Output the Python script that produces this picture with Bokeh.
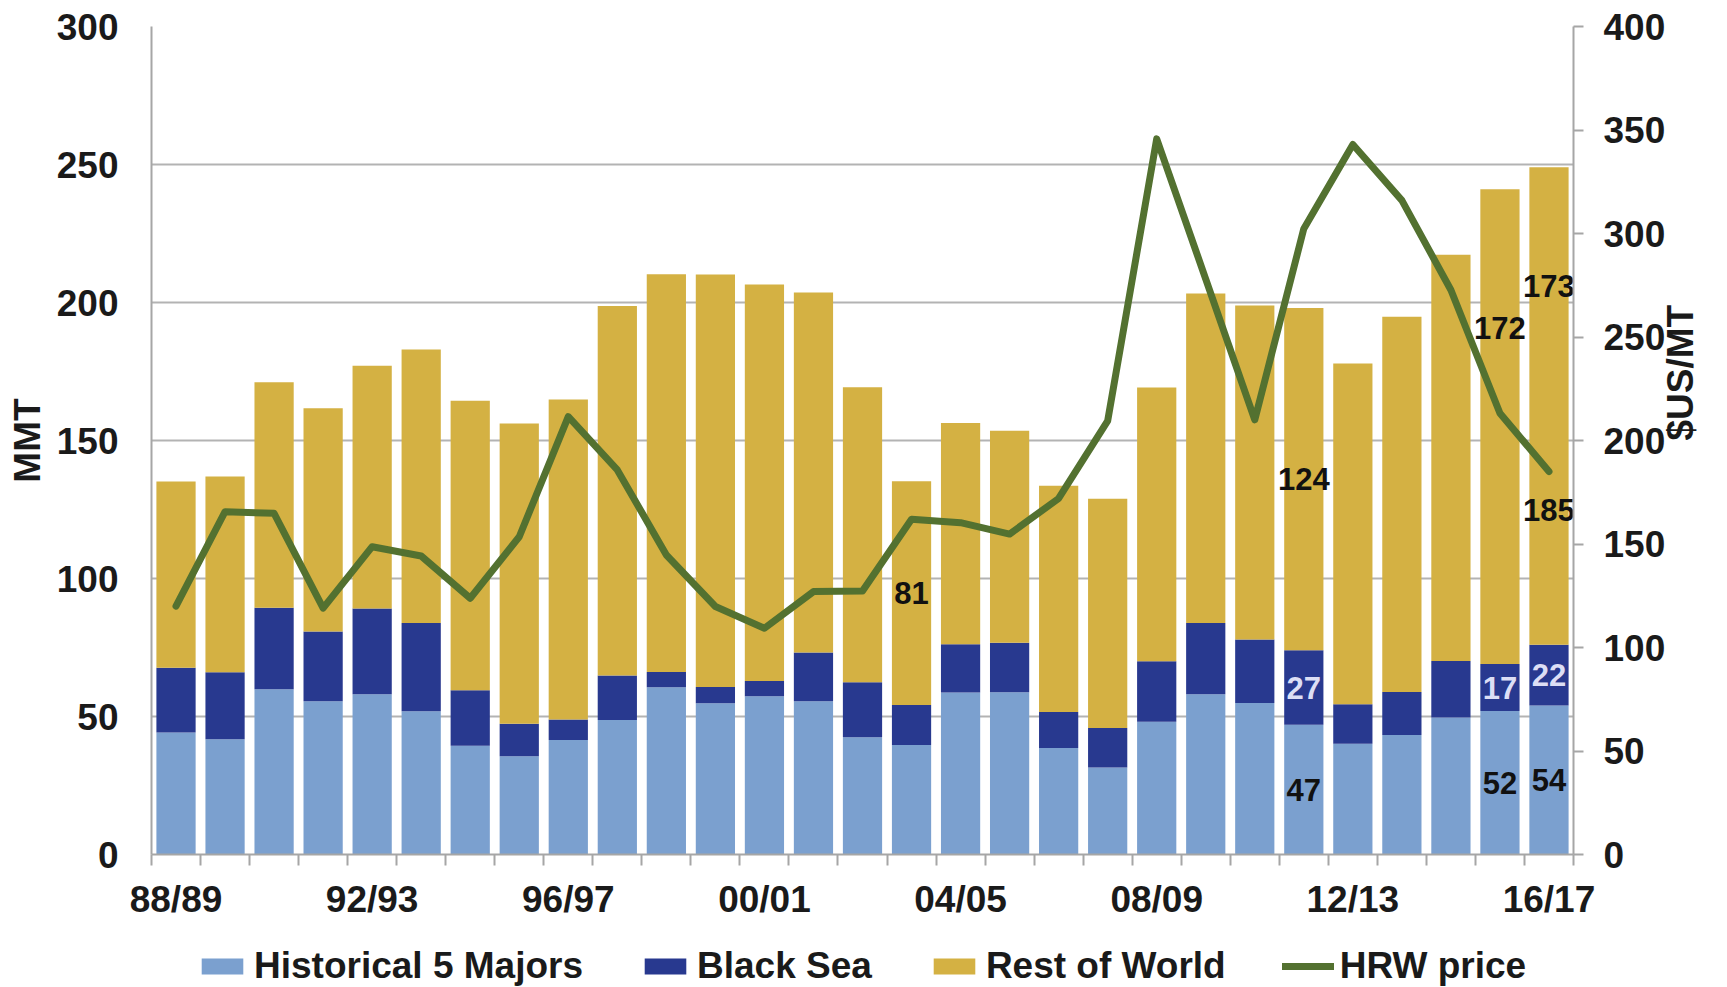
import math
from bokeh.plotting import figure
from bokeh.layouts import column
from bokeh.models import Range1d, LinearAxis, FixedTicker, Legend, LegendItem, ColumnDataSource
from bokeh.embed import file_html
from bokeh.resources import INLINE
from bokeh.core.properties import value

seasons = ["88/89", "89/90", "90/91", "91/92", "92/93", "93/94", "94/95", "95/96",
           "96/97", "97/98", "98/99", "99/00", "00/01", "01/02", "02/03", "03/04",
           "04/05", "05/06", "06/07", "07/08", "08/09", "09/10", "10/11", "11/12",
           "12/13", "13/14", "14/15", "15/16", "16/17"]
tick_seasons = ["88/89", "92/93", "96/97", "00/01", "04/05", "08/09", "12/13", "16/17"]

majors = [44.2, 41.8, 59.9, 55.5, 58.1, 51.9, 39.4, 35.6, 41.5, 48.7, 60.6, 54.8, 57.3, 55.5,
          42.5, 39.7, 58.7, 58.8, 38.6, 31.5, 48.1, 58.1, 54.9, 47, 40.1, 43.3, 49.6, 52, 54]
black_sea = [23.5, 24.2, 29.5, 25.3, 31.0, 32.0, 20.1, 11.8, 7.4, 16.2, 5.5, 5.9, 5.6, 17.7,
             19.9, 14.5, 17.5, 17.9, 13.0, 14.3, 21.9, 25.8, 23.0, 27, 14.3, 15.6, 20.5, 17, 22]
rest_of_world = [67.4, 71.0, 81.7, 80.9, 88.0, 99.1, 104.9, 108.8, 116.0, 133.8, 144.1, 149.4,
                 143.6, 130.4, 106.9, 81, 80.1, 76.8, 82.0, 83.1, 99.2, 119.4, 121.0, 124,
                 123.5, 135.9, 147.2, 172, 173]
hrw_price = [120, 165.6, 164.8, 119, 148.7, 144.2, 123.8, 153.5, 211.5, 185.8, 144.7, 119.8,
             109.3, 127, 127.3, 162, 160.3, 154.8, 172, 209.5, 345.7, 278, 210, 302.3, 343,
             316, 272.7, 213.2, 185]
legend_labels = ["Historical 5 Majors", "Black Sea", "Rest of World", "HRW price"]

# annotated segments: (season, series, extra pixel offset)
annotations = [("03/04", "rest", 0), ("11/12", "majors", 0), ("11/12", "black_sea", 0),
               ("11/12", "rest", 0), ("15/16", "majors", 0), ("15/16", "black_sea", 0),
               ("15/16", "rest", -99), ("16/17", "majors", 0), ("16/17", "black_sea", 0),
               ("16/17", "rest", -120)]
price_annotations = [("16/17", 38)]

C_MAJ = "#7BA0CF"
C_BS = "#28398F"
C_ROW = "#D4B143"
C_LINE = "#537130"
C_TXT = "#1a1a1a"
FONT = "Liberation Sans"
FS = "37px"
W = 1727
H_MAIN = 935
H_LEG = 52

xs = list(range(len(seasons)))
src = ColumnDataSource(dict(x=xs, majors=majors, black_sea=black_sea, rest=rest_of_world,
                            price=hrw_price))

p = figure(width=W, height=H_MAIN, output_backend="svg", toolbar_location=None,
           x_range=Range1d(-0.5, len(seasons) - 0.5), y_range=Range1d(0, 300),
           min_border_left=151, min_border_right=154, min_border_top=26, min_border_bottom=81)
p.outline_line_color = None
p.background_fill_color = "white"
p.extra_y_ranges = {"price": Range1d(0, 400)}

bars = p.vbar_stack(["majors", "black_sea", "rest"], x="x", width=0.8,
                    color=[C_MAJ, C_BS, C_ROW], line_color=None, source=src)
line = p.line("x", "price", source=src, y_range_name="price", line_width=7,
              line_color=C_LINE, line_join="round", line_cap="round")

# labels
series = {"majors": majors, "black_sea": black_sea, "rest": rest_of_world}
order = ["majors", "black_sea", "rest"]
lx, ly, lt, lc, ld = [], [], [], [], []
for season, ser, dy in annotations:
    i = seasons.index(season)
    base = sum(series[s][i] for s in order[:order.index(ser)])
    v = series[ser][i]
    lx.append(i)
    ly.append(base + v / 2)
    lt.append(str(int(round(v))))
    lc.append("#DCDEF5" if ser == "black_sea" else "#111111")
    ld.append(dy)
lab_src = ColumnDataSource(dict(x=lx, y=ly, t=lt, c=lc, d=ld))
p.text(x="x", y="y", text="t", text_color="c", y_offset="d", source=lab_src,
       text_align="center", text_baseline="middle", text_font=value(FONT),
       text_font_style="bold", text_font_size="31px")

px, py, pt, pd = [], [], [], []
for season, dy in price_annotations:
    i = seasons.index(season)
    px.append(i)
    py.append(hrw_price[i])
    pt.append(str(int(round(hrw_price[i]))))
    pd.append(dy)
p.text(x=px, y=py, text=pt, y_offset=pd, y_range_name="price", text_color="#111111",
       text_align="center", text_baseline="middle", text_font=value(FONT),
       text_font_style="bold", text_font_size="31px")

# x axis
xa = p.xaxis[0]
tick_pos = [seasons.index(s) for s in tick_seasons]
xa.ticker = FixedTicker(ticks=tick_pos, minor_ticks=[i - 0.5 for i in range(len(seasons) + 1)])
xa.major_label_overrides = {i: seasons[i] for i in tick_pos}
xa.major_tick_out = 0
xa.major_tick_in = 0
xa.minor_tick_out = 11
xa.minor_tick_in = 0
xa.minor_tick_line_color = "#A6A6A6"
xa.minor_tick_line_width = 2
xa.axis_line_color = "#A6A6A6"
xa.axis_line_width = 2
xa.major_label_standoff = 13
xa.major_label_text_font = FONT
xa.major_label_text_font_style = "bold"
xa.major_label_text_font_size = FS
xa.major_label_text_color = C_TXT

# left axis
ya = p.yaxis[0]
ya.ticker = FixedTicker(ticks=[0, 50, 100, 150, 200, 250, 300])
ya.major_tick_out = 0
ya.major_tick_in = 0
ya.minor_tick_out = 0
ya.minor_tick_in = 0
ya.axis_line_color = "#A6A6A6"
ya.axis_line_width = 2
ya.major_label_standoff = 33
ya.major_label_text_font = FONT
ya.major_label_text_font_style = "bold"
ya.major_label_text_font_size = FS
ya.major_label_text_color = C_TXT
ya.axis_label = "MMT"
ya.axis_label_standoff = 6
ya.axis_label_text_font = FONT
ya.axis_label_text_font_style = "bold"
ya.axis_label_text_font_size = FS
ya.axis_label_text_color = C_TXT

# right axis (ticks and numbers)
ra = LinearAxis(y_range_name="price", ticker=FixedTicker(ticks=[0, 50, 100, 150, 200, 250, 300, 350, 400]))
ra.major_tick_out = 10
ra.major_tick_in = 0
ra.minor_tick_out = 0
ra.minor_tick_in = 0
ra.major_tick_line_color = "#A6A6A6"
ra.major_tick_line_width = 2
ra.axis_line_color = "#A6A6A6"
ra.axis_line_width = 2
ra.major_label_standoff = 20
ra.major_label_text_font = FONT
ra.major_label_text_font_style = "bold"
ra.major_label_text_font_size = FS
ra.major_label_text_color = C_TXT
p.add_layout(ra, "right")

# right axis title, reading bottom-to-top; bounds shift its anchor so it is centred
rt = LinearAxis(y_range_name="price", ticker=FixedTicker(ticks=[]), bounds=(0, 334))
rt.axis_line_color = None
rt.major_tick_line_color = None
rt.minor_tick_line_color = None
rt.major_label_text_font_size = "0px"
rt.axis_label = "$US/MT"
rt.axis_label_orientation = math.pi / 2
rt.axis_label_standoff = 12
rt.axis_label_text_font = FONT
rt.axis_label_text_font_style = "bold"
rt.axis_label_text_font_size = FS
rt.axis_label_text_color = C_TXT
p.add_layout(rt, "right")

p.xgrid.visible = False
p.ygrid.grid_line_color = "#B3B3B3"
p.ygrid.grid_line_width = 2

# legend strip below the chart: the same series as hidden renderers, legend only
q = figure(width=W, height=H_LEG, output_backend="svg", toolbar_location=None,
           x_axis_type=None, y_axis_type=None, x_range=Range1d(-1000, -999),
           y_range=Range1d(1000, 1001),
           min_border_left=0, min_border_right=0, min_border_top=0, min_border_bottom=0)
q.outline_line_color = None
q.grid.visible = False
q.background_fill_color = "white"
lr = list(q.vbar_stack(["majors", "black_sea", "rest"], x="x", width=0.8,
                       color=[C_MAJ, C_BS, C_ROW], line_color=None, source=src))
lr.append(q.line("x", "price", source=src, line_width=7, line_color=C_LINE, line_cap="round"))
for r in lr:
    r.visible = False
legend = Legend(items=[LegendItem(label=lab, renderers=[r]) for lab, r in zip(legend_labels, lr)],
                location=(45, 0), orientation="horizontal", glyph_width=52, glyph_height=20,
                label_standoff=6, spacing=56, padding=0, margin=0, border_line_color=None,
                background_fill_alpha=0, inactive_fill_alpha=0,
                label_text_font=FONT, label_text_font_style="bold",
                label_text_font_size=FS, label_text_color=C_TXT)
q.add_layout(legend)

open("out.html", "w").write(file_html(column(p, q, spacing=0), INLINE))
